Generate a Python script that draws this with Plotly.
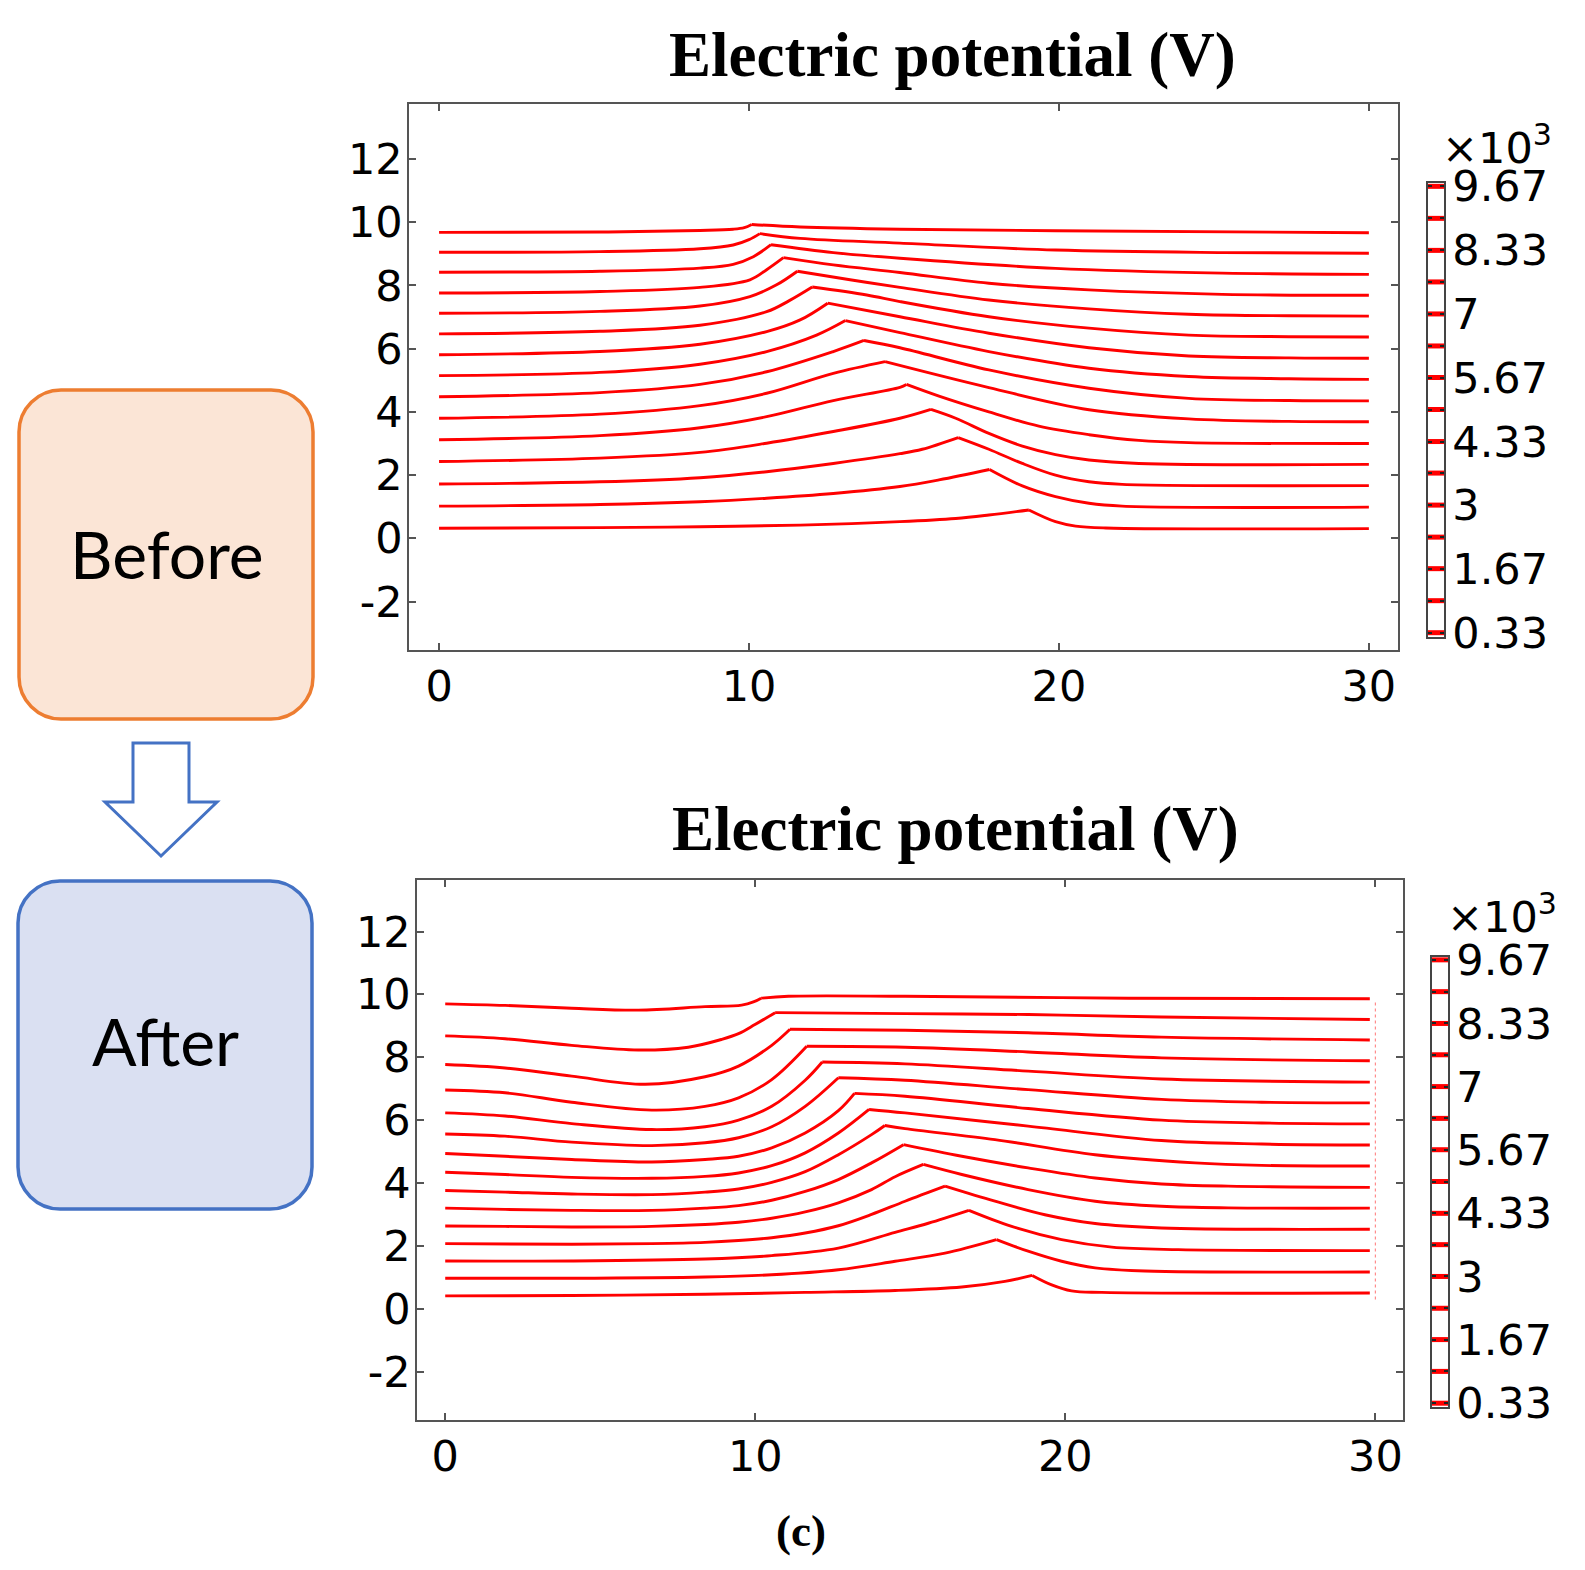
import plotly.graph_objects as go

W, H = 1585, 1570

# ---------------- data ----------------
levels = [9.67, 9.0, 8.33, 7.67, 7.0, 6.33, 5.67, 5.0, 4.33, 3.67, 3.0, 2.33, 1.67, 1.0, 0.33]
label_levels = [9.67, 8.33, 7.0, 5.67, 4.33, 3.0, 1.67, 0.33]
label_texts = ["9.67", "8.33", "7", "5.67", "4.33", "3", "1.67", "0.33"]
minor_levels = [9.0, 7.67, 6.33, 5.0, 3.67, 2.33, 1.0]

x_tickvals = [0, 10, 20, 30]
x_ticktext = ["0", "10", "20", "30"]
y_tickvals = [-2, 0, 2, 4, 6, 8, 10, 12]
y_ticktext = ["-2", "0", "2", "4", "6", "8", "10", "12"]

# Before: equipotential lines (x in mm, y in mm)
before_x = [
    [0, 5.19, 8.42, 9.49, 9.85, 10.09, 11.65, 14.87, 19.89, 30],
    [0, 5.19, 8.42, 9.49, 10.0, 10.35, 11.65, 14.87, 19.89, 25.27, 30],
    [0, 5.19, 8.42, 9.49, 10.14, 10.71, 12.72, 14.87, 19.89, 25.27, 30],
    [0, 5.19, 8.42, 10.03, 10.57, 11.11, 12.72, 14.87, 17.74, 20.97, 25.27, 30],
    [0, 5.19, 8.42, 10.03, 10.89, 11.56, 13.26, 14.87, 17.74, 20.97, 24.19, 27.42, 30],
    [0, 5.19, 8.42, 10.57, 11.3, 12.04, 13.80, 14.87, 17.74, 20.97, 24.19, 27.42, 30],
    [0, 5.19, 8.42, 10.57, 11.65, 12.54, 14.87, 17.74, 20.97, 24.19, 27.42, 30],
    [0, 5.19, 8.42, 10.57, 12.18, 13.11, 14.87, 17.74, 20.97, 24.19, 27.42, 30],
    [0, 5.19, 8.42, 10.57, 12.72, 13.71, 14.87, 17.74, 20.97, 24.19, 27.42, 30],
    [0, 5.19, 8.42, 10.57, 12.72, 14.39, 17.74, 20.97, 24.19, 27.42, 30],
    [0, 5.19, 8.42, 10.57, 12.72, 14.87, 15.08, 16.13, 17.74, 19.35, 20.97, 22.58, 24.19, 30],
    [0, 5.19, 8.42, 10.57, 12.72, 14.87, 15.87, 16.67, 17.74, 18.82, 19.89, 20.97, 22.58, 30],
    [0, 5.19, 8.42, 10.57, 12.72, 14.87, 15.59, 16.75, 17.74, 18.82, 19.89, 20.97, 22.04, 30],
    [0, 5.19, 8.42, 10.57, 12.72, 14.87, 16.13, 17.76, 18.82, 19.89, 20.97, 22.04, 30],
    [0, 5.19, 8.42, 11.65, 14.87, 16.67, 17.74, 19.03, 19.89, 20.54, 21.51, 30],
]
before_y = [
    [9.68, 9.69, 9.74, 9.78, 9.83, 9.93, 9.85, 9.78, 9.73, 9.67],
    [9.05, 9.07, 9.16, 9.28, 9.45, 9.64, 9.49, 9.34, 9.12, 9.04, 9.02],
    [8.42, 8.45, 8.55, 8.67, 8.91, 9.29, 9.04, 8.86, 8.54, 8.39, 8.35],
    [7.76, 7.81, 7.94, 8.18, 8.50, 8.88, 8.65, 8.41, 8.07, 7.86, 7.72, 7.69],
    [7.12, 7.18, 7.35, 7.65, 8.02, 8.45, 8.18, 7.94, 7.54, 7.26, 7.09, 7.04, 7.03],
    [6.47, 6.55, 6.74, 7.17, 7.52, 7.95, 7.70, 7.49, 7.01, 6.65, 6.43, 6.38, 6.37],
    [5.81, 5.91, 6.14, 6.54, 6.91, 7.44, 7.01, 6.49, 6.03, 5.77, 5.71, 5.70],
    [5.15, 5.25, 5.51, 5.91, 6.43, 6.89, 6.51, 5.91, 5.38, 5.12, 5.05, 5.03],
    [4.48, 4.61, 4.87, 5.27, 5.91, 6.26, 6.03, 5.33, 4.75, 4.43, 4.36, 4.35],
    [3.80, 3.93, 4.20, 4.59, 5.22, 5.59, 4.77, 4.07, 3.78, 3.70, 3.69],
    [3.12, 3.25, 3.50, 3.85, 4.36, 4.78, 4.87, 4.50, 4.00, 3.55, 3.28, 3.10, 3.03, 3.00],
    [2.43, 2.54, 2.72, 3.01, 3.38, 3.80, 4.08, 3.80, 3.32, 2.92, 2.65, 2.48, 2.37, 2.34],
    [1.72, 1.79, 1.92, 2.11, 2.37, 2.68, 2.82, 3.19, 2.82, 2.37, 2.00, 1.79, 1.71, 1.67],
    [1.02, 1.07, 1.16, 1.27, 1.42, 1.64, 1.85, 2.18, 1.66, 1.32, 1.11, 1.02, 0.99],
    [0.32, 0.34, 0.37, 0.42, 0.53, 0.63, 0.74, 0.90, 0.53, 0.39, 0.33, 0.31],
]
before_kink_x = [10.09, 10.35, 10.71, 11.11, 11.56, 12.04, 12.54, 13.11, 13.71, 14.39,
                 15.08, 15.87, 16.75, 17.76, 19.03]

# After: equipotential lines
after_x = [
    [0, 1.93, 4.08, 6.23, 8.38, 9.56, 9.94, 10.19, 11.07, 14.83, 22.03, 29.82],
    [0, 1.93, 4.08, 6.23, 7.84, 8.92, 9.46, 9.99, 10.64, 14.83, 18.80, 23.10, 29.82],
    [0, 1.93, 4.08, 6.45, 8.38, 9.46, 10.53, 11.12, 14.83, 18.80, 23.10, 29.82],
    [0, 1.93, 4.08, 6.66, 8.38, 9.46, 10.53, 11.66, 14.83, 18.80, 23.10, 29.82],
    [0, 1.93, 4.08, 6.66, 8.38, 9.46, 10.53, 11.61, 12.16, 14.83, 18.80, 23.10, 29.82],
    [0, 1.93, 4.08, 6.66, 8.38, 9.46, 10.53, 11.61, 12.68, 14.83, 18.80, 23.10, 26.33, 29.82],
    [0, 1.93, 4.08, 6.66, 8.38, 9.46, 10.53, 11.61, 12.68, 13.20, 14.83, 18.80, 23.10, 26.33, 29.82],
    [0, 1.93, 4.08, 6.66, 8.38, 9.46, 10.53, 11.61, 12.68, 13.67, 14.83, 18.80, 23.10, 26.33, 29.82],
    [0, 1.93, 4.08, 6.66, 8.38, 9.46, 10.53, 11.61, 12.68, 13.75, 14.18, 14.83, 17.73, 20.96, 24.18, 26.33, 29.82],
    [0, 1.93, 4.08, 6.66, 8.38, 9.46, 10.53, 11.61, 12.68, 13.75, 14.78, 16.66, 18.80, 20.96, 23.10, 25.25, 29.82],
    [0, 1.93, 4.08, 6.66, 8.38, 9.46, 10.53, 11.61, 12.68, 13.75, 14.51, 15.42, 16.66, 18.80, 20.96, 23.10, 25.25, 29.82],
    [0, 4.08, 6.66, 8.38, 9.46, 10.53, 11.61, 12.68, 13.75, 14.83, 16.12, 17.73, 19.34, 20.96, 23.10, 29.82],
    [0, 4.08, 8.38, 10.53, 12.68, 14.51, 15.58, 16.89, 18.27, 19.88, 21.50, 23.64, 29.82],
    [0, 4.08, 8.38, 10.53, 12.68, 14.51, 16.12, 17.78, 18.80, 19.88, 20.96, 22.57, 29.82],
    [0, 4.08, 8.38, 11.61, 14.51, 16.66, 18.05, 18.93, 19.56, 20.20, 21.17, 29.82],
]
after_y = [
    [9.70, 9.65, 9.56, 9.50, 9.61, 9.66, 9.76, 9.88, 9.94, 9.94, 9.88, 9.86],
    [8.68, 8.59, 8.38, 8.23, 8.32, 8.57, 8.75, 9.04, 9.42, 9.39, 9.36, 9.28, 9.20],
    [7.77, 7.66, 7.40, 7.14, 7.38, 7.72, 8.38, 8.89, 8.86, 8.78, 8.64, 8.55],
    [6.96, 6.87, 6.57, 6.32, 6.44, 6.71, 7.29, 8.35, 8.32, 8.17, 7.98, 7.89],
    [6.23, 6.13, 5.89, 5.70, 5.79, 6.00, 6.44, 7.27, 7.85, 7.79, 7.56, 7.31, 7.21],
    [5.56, 5.49, 5.30, 5.19, 5.28, 5.44, 5.79, 6.44, 7.35, 7.27, 6.97, 6.66, 6.57, 6.55],
    [4.94, 4.85, 4.75, 4.67, 4.75, 4.85, 5.12, 5.59, 6.30, 6.85, 6.76, 6.37, 6.00, 5.91, 5.88],
    [4.34, 4.27, 4.18, 4.15, 4.21, 4.32, 4.55, 4.96, 5.59, 6.34, 6.23, 5.81, 5.35, 5.24, 5.21],
    [3.76, 3.71, 3.65, 3.63, 3.71, 3.81, 4.02, 4.36, 4.90, 5.54, 5.83, 5.73, 5.38, 4.90, 4.64, 4.56, 4.54],
    [3.20, 3.16, 3.13, 3.13, 3.20, 3.28, 3.45, 3.73, 4.11, 4.64, 5.22, 4.85, 4.48, 4.16, 3.97, 3.90, 3.86],
    [2.63, 2.62, 2.60, 2.62, 2.68, 2.75, 2.88, 3.08, 3.37, 3.79, 4.20, 4.59, 4.27, 3.79, 3.42, 3.26, 3.21, 3.20],
    [2.07, 2.05, 2.07, 2.11, 2.17, 2.26, 2.41, 2.64, 3.00, 3.42, 3.90, 3.42, 2.99, 2.71, 2.57, 2.53],
    [1.52, 1.52, 1.58, 1.69, 1.93, 2.43, 2.72, 3.13, 2.62, 2.20, 1.96, 1.88, 1.85],
    [0.97, 0.97, 1.01, 1.08, 1.24, 1.51, 1.77, 2.20, 1.83, 1.51, 1.30, 1.20, 1.17],
    [0.41, 0.42, 0.46, 0.52, 0.58, 0.69, 0.87, 1.06, 0.76, 0.57, 0.52, 0.50],
]
after_kink_x = [10.19, 10.64, 11.12, 11.66, 12.16, 12.68, 13.20, 13.67, 14.18, 14.78,
                15.42, 16.12, 16.89, 17.78, 18.93]

# faint dotted boundary at the right edge of the "after" lines
after_edge_x = [30, 30]
after_edge_y = [0.29, 9.84]

# ---------------- helpers ----------------
def px(x):
    return x / W


def py(y):
    return 1 - y / H


RED = "#ff0000"
fig = go.Figure()


def add_lines(xs_all, ys_all, kinks, xa, ya):
    for xs, ys, k in zip(xs_all, ys_all, kinks):
        i = xs.index(k)
        for sx, sy in ((xs[: i + 1], ys[: i + 1]), (xs[i:], ys[i:])):
            fig.add_trace(go.Scatter(
                x=sx, y=sy, mode="lines", xaxis=xa, yaxis=ya,
                line=dict(color=RED, width=2.9, shape="spline", smoothing=1.0),
                hoverinfo="skip", showlegend=False))


add_lines(before_x, before_y, before_kink_x, "x", "y")
add_lines(after_x, after_y, after_kink_x, "x2", "y2")

fig.add_trace(go.Scatter(
    x=after_edge_x, y=after_edge_y, mode="lines", xaxis="x2", yaxis="y2",
    line=dict(color="rgba(255,0,0,0.45)", width=1.2, dash="dot"),
    hoverinfo="skip", showlegend=False))

# colour legend bars (one red bar per contour level)
bar_x, bar_y = [], []
for lv in levels:
    bar_x += [0, 1, None]
    bar_y += [lv, lv, None]
for xa, ya in (("x3", "y3"), ("x4", "y4")):
    fig.add_trace(go.Scatter(
        x=bar_x, y=bar_y, mode="lines", xaxis=xa, yaxis=ya,
        line=dict(color=RED, width=5), hoverinfo="skip", showlegend=False))

# ---------------- axes ----------------
tickfont = dict(family="DejaVu Sans", size=43, color="black")
ax_line = dict(showline=True, linecolor="#555555", linewidth=1.6, mirror="ticks",
               ticks="inside", ticklen=7, tickwidth=1.5, tickcolor="#555555",
               showgrid=False, zeroline=False, tickfont=tickfont, automargin=False)

xa_main = dict(ax_line, tickvals=x_tickvals, ticktext=x_ticktext, ticklabelstandoff=-2)
ya_main = dict(ax_line, tickvals=y_tickvals, ticktext=y_ticktext, ticklabelstandoff=-4)

cb_x = dict(showline=True, linecolor="#444444", linewidth=1.5, mirror=True,
            showticklabels=False, ticks="", showgrid=False, zeroline=False,
            range=[0, 1], fixedrange=True, automargin=False)
cb_y = dict(showline=True, linecolor="#444444", linewidth=1.5, mirror="ticks",
            ticks="inside", ticklen=4, tickwidth=1.5, tickcolor="#222222",
            tickvals=label_levels, ticktext=label_texts, side="right",
            minor=dict(tickvals=minor_levels, ticks="inside", ticklen=4,
                       tickwidth=1.5, tickcolor="#222222"),
            showgrid=False, zeroline=False, tickfont=tickfont,
            ticklabelstandoff=-2, automargin=False)

fig.update_layout(
    width=W, height=H, autosize=False,
    margin=dict(l=0, r=0, t=0, b=0, pad=0),
    paper_bgcolor="white", plot_bgcolor="white",
    showlegend=False,
    xaxis=dict(xa_main, domain=[px(409), px(1398)], range=[-0.97, 30.94], anchor="y"),
    yaxis=dict(ya_main, domain=[py(650), py(104)], range=[-3.53, 13.74], anchor="x"),
    xaxis2=dict(xa_main, domain=[px(417), px(1403)], range=[-0.91, 30.89], anchor="y2"),
    yaxis2=dict(ya_main, domain=[py(1420), py(880)], range=[-3.54, 13.64], anchor="x2"),
    xaxis3=dict(cb_x, domain=[px(1428), px(1444)], anchor="y3"),
    yaxis3=dict(cb_y, domain=[py(637), py(183)], range=[0.24, 9.74], anchor="x3"),
    xaxis4=dict(cb_x, domain=[px(1432), px(1448)], anchor="y4"),
    yaxis4=dict(cb_y, domain=[py(1407), py(957)], range=[0.25, 9.73], anchor="x4"),
)

# ---------------- annotations ----------------
title_font = dict(family="Liberation Serif", size=63, color="black")
ann = [
    dict(text="<b>Electric potential (V)</b>", x=px(952), y=py(55), font=title_font),
    dict(text="<b>Electric potential (V)</b>", x=px(956), y=py(829), font=title_font),
    dict(text="<b>(c)</b>", x=px(801), y=py(1531),
         font=dict(family="Liberation Serif", size=45, color="black")),
    dict(text="×10<sup>3</sup>", x=px(1440), y=py(145), xanchor="left",
         font=tickfont),
    dict(text="×10<sup>3</sup>", x=px(1445), y=py(914), xanchor="left",
         font=tickfont),
    dict(text="Before", x=px(167), y=py(553),
         font=dict(family="Lato", size=66, color="black")),
    dict(text="After", x=px(165), y=py(1040),
         font=dict(family="Lato", size=66, color="black")),
]
for a in ann:
    a.setdefault("xanchor", "center")
    a.setdefault("yanchor", "middle")
    fig.add_annotation(xref="paper", yref="paper", showarrow=False, **a)


# ---------------- shapes (boxes and arrow) ----------------
def rrect_path(x0, y0, x1, y1, r):
    k = 0.5523 * r
    pts = [
        ("M", [(x0 + r, y0)]), ("L", [(x1 - r, y0)]),
        ("C", [(x1 - r + k, y0), (x1, y0 + r - k), (x1, y0 + r)]),
        ("L", [(x1, y1 - r)]),
        ("C", [(x1, y1 - r + k), (x1 - r + k, y1), (x1 - r, y1)]),
        ("L", [(x0 + r, y1)]),
        ("C", [(x0 + r - k, y1), (x0, y1 - r + k), (x0, y1 - r)]),
        ("L", [(x0, y0 + r)]),
        ("C", [(x0, y0 + r - k), (x0 + r - k, y0), (x0 + r, y0)]),
    ]
    s = ""
    for cmd, ps in pts:
        s += cmd + " " + " ".join(f"{px(a):.5f},{py(b):.5f}" for a, b in ps) + " "
    return s + "Z"


def poly_path(points):
    s = "M " + " L ".join(f"{px(a):.5f},{py(b):.5f}" for a, b in points)
    return s + " Z"


fig.add_shape(type="path", xref="paper", yref="paper",
              path=rrect_path(19, 390, 313, 719, 42),
              fillcolor="#fbe5d6", line=dict(color="#ed7d31", width=3.5), layer="below")
fig.add_shape(type="path", xref="paper", yref="paper",
              path=rrect_path(18, 881, 312, 1209, 42),
              fillcolor="#dae0f2", line=dict(color="#4472c4", width=3.5), layer="below")
fig.add_shape(type="path", xref="paper", yref="paper",
              path=poly_path([(133, 743), (189, 743), (189, 802), (217, 802),
                              (161, 856), (105, 802), (133, 802)]),
              fillcolor="white", line=dict(color="#4472c4", width=3), layer="below")

fig.write_html("out.html", config={"displayModeBar": False},
               post_script="document.body.style.margin='0';document.body.style.overflow='hidden';")
